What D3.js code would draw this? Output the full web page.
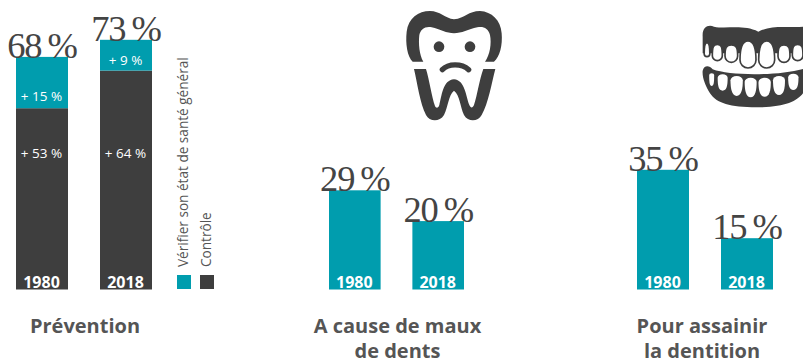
<!DOCTYPE html>
<html lang="fr">
<head>
<meta charset="utf-8">
<script src="https://cdnjs.cloudflare.com/ajax/libs/d3/7.8.5/d3.min.js"></script>
<style>
html,body{margin:0;padding:0;background:#fff}
svg{display:block}
text{font-family:"Open Sans","Noto Sans",sans-serif}
.total{font-family:"Liberation Serif",serif;font-size:36.5px;fill:#444;letter-spacing:-1.2px}
</style>
</head>
<body>
<svg id="chart" width="803" height="360"></svg>
<script>
const years = ["1980", "2018"];
const preventionControl = [53, 64];
const preventionCheck = [15, 9];
const painValues = [29, 20];
const dentitionValues = [35, 15];
const panelTitles = [["Prévention"], ["A cause de maux", "de dents"], ["Pour assainir", "la dentition"]];
const legendLabels = ["Vérifier son état de santé général", "Contrôle"];

const TEAL = "#009dae", DARK = "#3e3e3e", GREY = "#555";

const svg = d3.select("#chart");
const y = d3.scaleLinear().domain([0, 73]).range([289.5, 39.8]);

const xPrevention = d3.scaleBand().domain(years).range([16, 152]).paddingInner(32 / 84);
const xPain = d3.scaleBand().domain(years).range([329, 464]).paddingInner(32 / 84);
const xDentition = d3.scaleBand().domain(years).range([637, 773]).paddingInner(32 / 84);

const pct = v => `${v}\u2009%`;

function yearLabels(g, x) {
  g.selectAll(".year").data(years).join("text").attr("class", "year")
    .attr("x", d => x(d) + x.bandwidth() / 2 - .5).attr("y", 288)
    .attr("text-anchor", "middle").attr("font-size", 16).attr("font-weight", 700)
    .attr("fill", "#fff").text(d => d);
}

function totals(g, x, vals) {
  g.selectAll(".total").data(vals).join("text").attr("class", "total")
    .attr("x", (d, i) => x(years[i]) + x.bandwidth() / 2)
    .attr("y", d => y(d) + 1)
    .attr("text-anchor", "middle").text(pct);
}

function plainBars(x, vals) {
  const g = svg.append("g");
  g.selectAll("rect").data(vals).join("rect")
    .attr("x", (d, i) => x(years[i])).attr("width", x.bandwidth())
    .attr("y", d => y(d)).attr("height", d => y(0) - y(d)).attr("fill", TEAL);
  totals(g, x, vals);
  yearLabels(g, x);
}

// Stacked panel: control at the base, health check on top
const stacked = svg.append("g");
const stack = d3.stack().keys([0, 1]).value((d, k) => d[k])(
  years.map((_, i) => [preventionControl[i], preventionCheck[i]])
);
stack.forEach((layer, k) => {
  stacked.append("g").attr("fill", k === 0 ? DARK : TEAL)
    .selectAll("rect").data(layer).join("rect")
    .attr("x", (d, i) => xPrevention(years[i])).attr("width", xPrevention.bandwidth())
    .attr("y", d => y(d[1])).attr("height", d => y(d[0]) - y(d[1]));
});
function partLabels(vals, yOf) {
  stacked.append("g").selectAll("text").data(vals).join("text")
    .attr("x", (d, i) => xPrevention(years[i]) + xPrevention.bandwidth() / 2 - .5)
    .attr("y", yOf)
    .attr("text-anchor", "middle").attr("font-size", 13.5).attr("fill", "#fff")
    .text(d => `+ ${d} %`);
}
partLabels(preventionControl, () => 157.5);
partLabels(preventionCheck, (d, i) => i === 0 ? 101 : 64.5);
totals(stacked, xPrevention, preventionControl.map((v, i) => v + preventionCheck[i]));
yearLabels(stacked, xPrevention);

plainBars(xPain, painValues);
plainBars(xDentition, dentitionValues);

// Legend: two swatches with rotated captions
const legendX = d3.scaleOrdinal().domain(legendLabels).range([177, 200]);
const legend = svg.append("g");
legend.selectAll("rect").data(legendLabels).join("rect")
  .attr("x", d => legendX(d)).attr("y", 275).attr("width", 14).attr("height", 14)
  .attr("fill", (d, i) => i === 0 ? TEAL : DARK);
legend.selectAll("text").data(legendLabels).join("text")
  .attr("transform", d => `translate(${legendX(d) + 11},267) rotate(-90)`)
  .attr("font-size", 13.6).attr("fill", GREY).text(d => d);

// Panel titles
const titleCentres = [85, 397.5, 702];
panelTitles.forEach((lines, p) => {
  svg.append("g").selectAll("text").data(lines).join("text")
    .attr("x", titleCentres[p]).attr("y", (d, i) => 333 + i * 25)
    .attr("text-anchor", "middle").attr("font-size", 20).attr("font-weight", 700)
    .attr("fill", GREY).text(d => d);
});

// Sad tooth icon
const tooth = svg.append("g").attr("transform", "translate(390,0) scale(.3333)").attr("fill", DARK);
tooth.append("path").attr("d", "M68,185C52,170 46,130 50,95C55,55 85,33 120,33C150,33 165,55 192,58C225,55 235,33 270,33C305,35 332,60 335,100C338,135 330,170 312,185L285,185C300,165 305,130 300,105C295,85 280,78 262,82C235,88 215,100 192,100C170,100 150,88 125,82C105,78 92,88 88,105C85,130 88,165 100,185Z");
tooth.append("path").attr("d", "M72,207L108,207C118,240 125,290 135,318C138,325 145,325 148,315C155,290 158,240 192,238C225,240 228,290 238,315C242,325 248,325 252,315C262,285 268,240 280,207L316,207C305,250 295,310 275,345C265,365 235,368 222,345C210,320 210,285 192,272C175,285 175,320 162,345C148,368 118,365 108,345C90,310 82,250 72,207Z");
tooth.append("circle").attr("cx", 147).attr("cy", 140).attr("r", 16);
tooth.append("circle").attr("cx", 240).attr("cy", 140).attr("r", 16);
tooth.append("path").attr("d", "M157,209C175,190 215,190 236,209").attr("fill", "none")
  .attr("stroke", DARK).attr("stroke-width", 16).attr("stroke-linecap", "round");

// Denture icon, running off the right edge
const dent = svg.append("g").attr("transform", "translate(690,10) scale(.3333)");
dent.append("path").attr("fill", DARK).attr("d", "M38,80C36,50 55,43 72,50C110,58 160,42 205,65C250,42 300,55 345,50L345,130L38,130Z");
dent.append("path").attr("fill", DARK).attr("d", "M38,182C42,165 58,165 68,178C120,198 270,198 345,175L345,240C330,270 290,292 200,292C120,292 80,280 60,250C45,225 36,200 38,182Z");
const upperTooth = ([cx, w, top, bottom]) => {
  const h = w / 2, s = bottom - h;
  return `M${cx},${top}C${cx + h * .8},${top} ${cx + h},${s - 26} ${cx + h},${s}A${h},${h} 0 0 1 ${cx - h},${s}C${cx - h},${s - 26} ${cx - h * .8},${top} ${cx},${top}Z`;
};
const lowerTooth = ([cx, w, top, bottom]) => {
  const h = w / 2, s = top + h * .7;
  return `M${cx},${bottom}C${cx + h * .8},${bottom} ${cx + h},${s + 24} ${cx + h},${s}A${h},${h * .7} 0 0 0 ${cx - h},${s}C${cx - h},${s + 24} ${cx - h * .8},${bottom} ${cx},${bottom}Z`;
};
const upperTeeth = [[51, 17, 98, 140], [82, 30, 103, 152], [124, 38, 105, 157], [174, 48, 93, 174], [230, 48, 93, 174], [282, 36, 105, 157], [323, 32, 103, 152]];
const lowerTeeth = [[65, 15, 190, 228], [98, 30, 193, 242], [140, 37, 198, 258], [182, 36, 203, 262], [224, 37, 203, 260], [267, 36, 198, 255], [310, 31, 191, 240]];
dent.selectAll(".up").data(upperTeeth).join("path").attr("class", "up")
  .attr("d", upperTooth).attr("fill", "#fff").attr("stroke", DARK).attr("stroke-width", 5);
dent.selectAll(".low").data(lowerTeeth).join("path").attr("class", "low")
  .attr("d", lowerTooth).attr("fill", "#fff");
</script>
</body>
</html>
